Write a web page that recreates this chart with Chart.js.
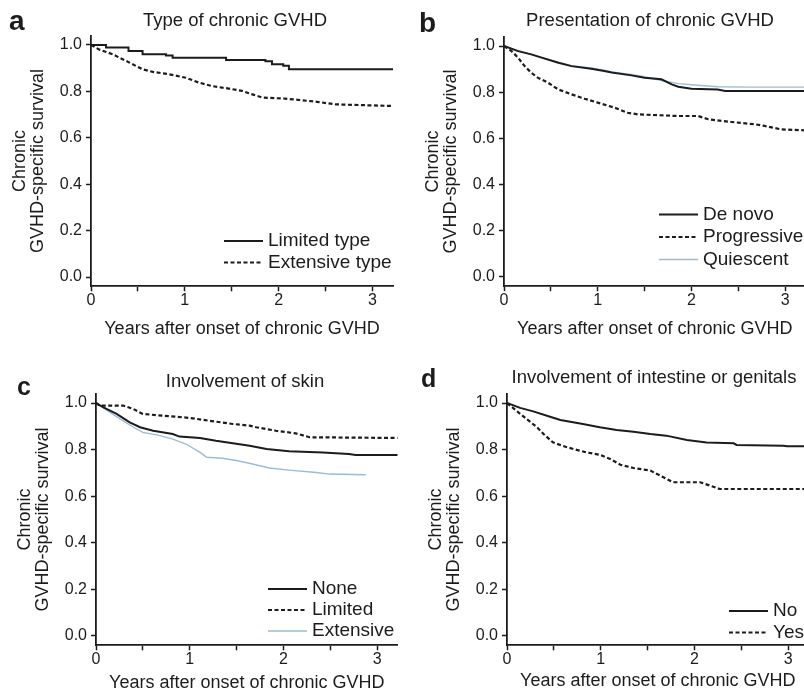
<!DOCTYPE html>
<html><head><meta charset="utf-8">
<script src="https://cdn.jsdelivr.net/npm/chart.js@4.4.0/dist/chart.umd.min.js"></script>
<style>
html,body{margin:0;padding:0;background:#fff;overflow:hidden;width:804px;height:695px;position:relative;}
canvas{position:absolute;}
</style></head><body>
<canvas id="ca"></canvas>
<canvas id="cb"></canvas>
<canvas id="cc"></canvas>
<canvas id="cd"></canvas>
<script>
// ---------- shared axis data ----------
const xTicks = [0, 0.5, 1, 1.5, 2, 2.5, 3];
const yTicks = [0, 0.2, 0.4, 0.6, 0.8, 1.0];
const xAxisTitle = 'Years after onset of chronic GVHD';
const yAxisTitle = ['Chronic', 'GVHD-specific survival'];

// ---------- panel a ----------
const aTitle = 'Type of chronic GVHD';
const aLabels = ['Limited type', 'Extensive type'];
const aLimitedT = [0, 0.16, 0.40, 0.55, 0.80, 0.87, 1.44, 1.86, 1.93, 2.05, 2.11, 3.22];
const aLimitedS = [1.0, 0.989, 0.974, 0.96, 0.955, 0.945, 0.935, 0.93, 0.917, 0.91, 0.895, 0.895];
const aExtensiveT = [0, 0.09, 0.23, 0.41, 0.55, 0.66, 0.83, 1.01, 1.15, 1.29, 1.47, 1.61, 1.72, 1.83, 2.07, 2.22, 2.43, 2.61, 2.96, 3.22];
const aExtensiveS = [1.0, 0.98, 0.96, 0.924, 0.895, 0.884, 0.874, 0.859, 0.838, 0.823, 0.812, 0.802, 0.787, 0.773, 0.769, 0.763, 0.754, 0.744, 0.74, 0.737];

// ---------- panel b ----------
const bTitle = 'Presentation of chronic GVHD';
const bLabels = ['De novo', 'Progressive', 'Quiescent'];
const bDeNovoT = [0, 0.15, 0.29, 0.40, 0.58, 0.72, 0.93, 1.07, 1.15, 1.36, 1.50, 1.68, 1.79, 1.86, 2.0, 2.28, 2.36, 3.22];
const bDeNovoS = [1.0, 0.978, 0.964, 0.95, 0.928, 0.913, 0.902, 0.892, 0.885, 0.873, 0.863, 0.856, 0.834, 0.824, 0.815, 0.812, 0.805, 0.805];
const bProgressiveT = [0, 0.08, 0.15, 0.22, 0.29, 0.36, 0.47, 0.58, 0.72, 0.86, 1.0, 1.18, 1.32, 1.43, 1.86, 2.07, 2.18, 2.43, 2.68, 2.78, 2.96, 3.22];
const bProgressiveS = [1.0, 0.978, 0.95, 0.913, 0.885, 0.863, 0.841, 0.812, 0.791, 0.772, 0.755, 0.733, 0.711, 0.704, 0.697, 0.697, 0.683, 0.671, 0.661, 0.654, 0.639, 0.635];
const bQuiescentT = [0, 0.15, 0.29, 0.40, 0.58, 0.72, 0.93, 1.07, 1.15, 1.36, 1.50, 1.68, 1.86, 2.07, 2.28, 2.64, 3.22];
const bQuiescentS = [1.0, 0.98, 0.965, 0.952, 0.93, 0.915, 0.905, 0.895, 0.888, 0.877, 0.867, 0.851, 0.837, 0.83, 0.824, 0.822, 0.822];

// ---------- panel c ----------
const cTitle = 'Involvement of skin';
const cLabels = ['None', 'Limited', 'Extensive'];
const cNoneT = [0, 0.08, 0.22, 0.36, 0.47, 0.61, 0.82, 0.89, 1.11, 1.28, 1.46, 1.64, 1.82, 2.06, 2.42, 2.70, 2.77, 3.22];
const cNoneS = [1.0, 0.981, 0.953, 0.917, 0.896, 0.881, 0.867, 0.856, 0.85, 0.838, 0.827, 0.817, 0.803, 0.793, 0.788, 0.781, 0.777, 0.777];
const cLimitedT = [0, 0.04, 0.29, 0.40, 0.50, 1.0, 1.21, 1.46, 1.64, 1.71, 1.92, 2.13, 2.28, 3.22];
const cLimitedS = [1.0, 0.989, 0.989, 0.974, 0.953, 0.936, 0.924, 0.91, 0.903, 0.896, 0.881, 0.87, 0.853, 0.85];
const cExtensiveT = [0, 0.15, 0.26, 0.40, 0.50, 0.65, 0.82, 0.96, 1.11, 1.18, 1.35, 1.50, 1.67, 1.85, 2.06, 2.35, 2.49, 2.88];
const cExtensiveS = [1.0, 0.96, 0.931, 0.896, 0.874, 0.863, 0.845, 0.824, 0.788, 0.767, 0.763, 0.753, 0.738, 0.721, 0.712, 0.702, 0.695, 0.692];

// ---------- panel d ----------
const dTitle = 'Involvement of intestine or genitals';
const dLabels = ['No', 'Yes'];
const dNoT = [0, 0.14, 0.28, 0.46, 0.57, 0.81, 0.99, 1.17, 1.35, 1.53, 1.70, 1.92, 2.13, 2.42, 2.45, 2.95, 2.99, 3.22];
const dNoS = [1.0, 0.979, 0.964, 0.941, 0.927, 0.91, 0.896, 0.884, 0.877, 0.867, 0.86, 0.841, 0.831, 0.827, 0.82, 0.817, 0.814, 0.814];
const dYesT = [0, 0.10, 0.21, 0.32, 0.39, 0.49, 0.64, 0.85, 0.99, 1.10, 1.21, 1.35, 1.53, 1.67, 1.77, 2.06, 2.17, 2.27, 3.22];
const dYesS = [1.0, 0.967, 0.931, 0.896, 0.867, 0.831, 0.81, 0.788, 0.778, 0.76, 0.735, 0.721, 0.71, 0.681, 0.66, 0.66, 0.645, 0.631, 0.631];

// ---------- styles ----------
const FONT = '"Liberation Sans", Arial, Helvetica, sans-serif';
const INK = '#1c1c1c';
const BLUE = '#9dbbd6';
const SOLID = {color: INK, width: 2, dash: []};
const DASHED = {color: INK, width: 2.2, dash: [4, 2.5]};
const LIGHT = {color: BLUE, width: 1.4, dash: []};

function pts(t, s) { return t.map((x, i) => ({x: x, y: s[i]})); }

const panelDecor = {
  id: 'panelDecor',
  afterDraw(chart, args, o) {
    const ctx = chart.ctx;
    ctx.save();
    ctx.fillStyle = INK;
    ctx.font = 'bold ' + o.letterSize + 'px ' + FONT;
    ctx.textAlign = 'left'; ctx.textBaseline = 'alphabetic';
    ctx.fillText(o.letter, o.letterX, o.letterY);
    ctx.font = '18.5px ' + FONT;
    ctx.textAlign = 'center'; ctx.textBaseline = 'middle';
    ctx.fillText(o.title, o.titleX, o.titleY);
    ctx.font = '19px ' + FONT;
    ctx.textAlign = 'left';
    chart.data.datasets.forEach((ds, i) => {
      const y = o.legendY + i * o.legendGap;
      ctx.beginPath();
      ctx.strokeStyle = ds.borderColor;
      ctx.lineWidth = ds.borderWidth;
      ctx.setLineDash(ds.borderDash || []);
      ctx.moveTo(o.legendX - 5 - 39, y);
      ctx.lineTo(o.legendX - 5, y);
      ctx.stroke();
      ctx.setLineDash([]);
      ctx.fillStyle = INK;
      ctx.fillText(ds.label, o.legendX, y);
    });
    ctx.restore();
  }
};

function makeChart(cfg) {
  const [L, T, W, H] = cfg.canvas;
  const [l, t, r, b] = cfg.area;
  const cv = document.getElementById(cfg.id);
  cv.width = W; cv.height = H;
  cv.style.left = L + 'px'; cv.style.top = T + 'px';
  const xH = cfg.xTitleOff + 9;
  new Chart(cv, {
    type: 'line',
    data: {
      datasets: cfg.series.map(s => ({
        label: s.label, data: pts(s.t, s.s),
        borderColor: s.style.color, borderWidth: s.style.width, borderDash: s.style.dash,
        stepped: s.stepped || false, pointRadius: 0, fill: false, tension: 0
      }))
    },
    options: {
      responsive: false, animation: false, events: [],
      layout: {padding: {left: l - L - 82, top: t - T, right: L + W - r, bottom: T + H - b - xH}},
      plugins: {
        legend: {display: false}, tooltip: {enabled: false}, title: {display: false},
        panelDecor: {
          letter: cfg.letter, letterX: cfg.letterPos[0] - L, letterY: cfg.letterPos[1] - T, letterSize: cfg.letterSize,
          title: cfg.title, titleX: cfg.titlePos[0] - L, titleY: cfg.titlePos[1] - T,
          legendX: cfg.legend[0] - L, legendY: cfg.legend[1] - T, legendGap: cfg.legend[2]
        }
      },
      scales: {
        x: {
          type: 'linear', min: 0, max: 3.22,
          afterBuildTicks: s => { s.ticks = xTicks.map(v => ({value: v})); },
          afterFit: s => { s.height = xH; },
          ticks: {
            callback: v => Number.isInteger(v) ? String(v) : '',
            font: {family: FONT, size: 16}, color: INK, padding: 0, maxRotation: 0, autoSkip: false
          },
          grid: {display: true, drawOnChartArea: false, drawTicks: true, tickLength: 5, tickWidth: 1.5, tickColor: INK},
          border: {display: true, color: INK, width: 1.8},
          title: {display: true, text: xAxisTitle, font: {family: FONT, size: 18, lineHeight: 1}, color: INK, padding: {top: 0, bottom: 0}}
        },
        y: {
          type: 'linear', min: -0.04, max: 1.04,
          afterBuildTicks: s => { s.ticks = yTicks.map(v => ({value: v})); },
          afterFit: s => { s.width = 82; },
          ticks: {callback: v => v.toFixed(1), font: {family: FONT, size: 16}, color: INK, padding: 4},
          grid: {display: true, drawOnChartArea: false, drawTicks: true, tickLength: 5, tickWidth: 1.5, tickColor: INK},
          border: {display: true, color: INK, width: 1.8},
          title: {display: true, text: yAxisTitle, font: {family: FONT, size: 18, lineHeight: 1}, color: INK, padding: {top: 2, bottom: 0}}
        }
      }
    },
    plugins: [panelDecor]
  });
}

makeChart({
  id: 'ca', canvas: [0, 0, 400, 345], area: [91, 35.7, 393, 286.3], xTitleOff: 43,
  letter: 'a', letterPos: [9, 30], letterSize: 28,
  title: aTitle, titlePos: [235, 21], legend: [268, 241, 21.5],
  series: [
    {label: aLabels[0], t: aLimitedT, s: aLimitedS, style: SOLID, stepped: true},
    {label: aLabels[1], t: aExtensiveT, s: aExtensiveS, style: DASHED}
  ]
});
makeChart({
  id: 'cb', canvas: [400, 0, 410, 345], area: [504, 36.8, 805.7, 286.2], xTitleOff: 43,
  letter: 'b', letterPos: [419, 32], letterSize: 28,
  title: bTitle, titlePos: [650, 21], legend: [703, 214.5, 22.5],
  series: [
    {label: bLabels[0], t: bDeNovoT, s: bDeNovoS, style: SOLID},
    {label: bLabels[1], t: bProgressiveT, s: bProgressiveS, style: DASHED},
    {label: bLabels[2], t: bQuiescentT, s: bQuiescentS, style: LIGHT}
  ]
});
makeChart({
  id: 'cc', canvas: [0, 345, 400, 350], area: [96, 393.7, 397.7, 645.3], xTitleOff: 38,
  letter: 'c', letterPos: [17, 395], letterSize: 25,
  title: cTitle, titlePos: [245, 382], legend: [312, 589, 21],
  series: [
    {label: cLabels[0], t: cNoneT, s: cNoneS, style: SOLID},
    {label: cLabels[1], t: cLimitedT, s: cLimitedS, style: DASHED},
    {label: cLabels[2], t: cExtensiveT, s: cExtensiveS, style: LIGHT}
  ]
});
makeChart({
  id: 'cd', canvas: [400, 345, 412, 350], area: [507, 393.7, 808.7, 645.3], xTitleOff: 36,
  letter: 'd', letterPos: [421, 387], letterSize: 25,
  title: dTitle, titlePos: [654, 377.5], legend: [773, 611, 21.5],
  series: [
    {label: dLabels[0], t: dNoT, s: dNoS, style: SOLID},
    {label: dLabels[1], t: dYesT, s: dYesS, style: DASHED}
  ]
});
</script>
</body></html>
